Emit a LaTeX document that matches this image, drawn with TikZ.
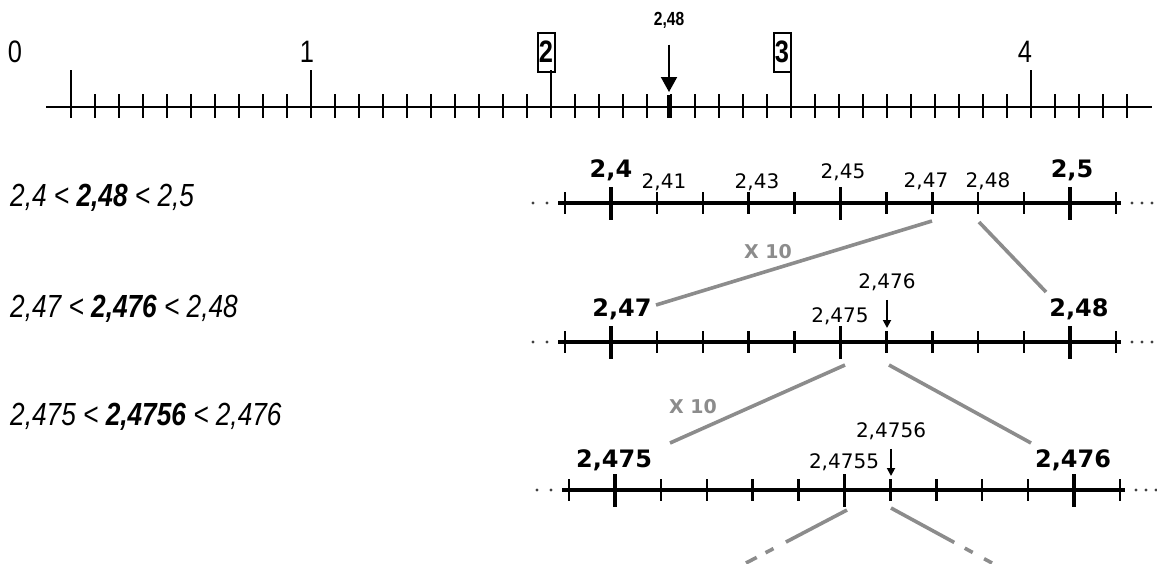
\documentclass[tikz,border=0pt]{standalone}
\usepackage{fontspec}
\newfontfamily\narrowfont[FakeStretch=0.82]{Liberation Sans}
\newfontfamily\verdfont{DejaVu Sans}
\usetikzlibrary{arrows.meta}

\begin{document}
\begin{tikzpicture}[
  x=1pt, y=-1pt,
  axis/.style={line width=2.5pt},
  tick/.style={line width=2.3pt},
  num/.style={font=\narrowfont\fontsize{31}{36}\selectfont, inner sep=1pt},
  boxnum/.style={font=\narrowfont\bfseries\fontsize{31}{36}\selectfont, draw, line width=2pt, minimum width=17pt, minimum height=39pt, inner sep=0.5pt},
  ineq/.style={font=\narrowfont\itshape\fontsize{32}{38}\selectfont, anchor=west, inner sep=0pt},
  zaxis/.style={line width=3.4pt},
  ztick/.style={line width=2.5pt},
  zmain/.style={line width=4.4pt},
  big/.style={font=\verdfont\bfseries\fontsize{24}{28}\selectfont, inner sep=1pt},
  small/.style={font=\verdfont\fontsize{20}{24}\selectfont, inner sep=1pt},
  link/.style={line width=3.6pt, black!45},
  times/.style={font=\verdfont\bfseries\fontsize{19}{22}\selectfont, text=black!45, inner sep=1pt},
  zarr/.style={-{Triangle[width=8pt,length=8pt]}, line width=1.8pt}
]
\useasboundingbox (0,0) rectangle (1157,563);

% number line 0..4
\draw[axis] (46,107) -- (1152,107);
\foreach \i in {0,...,44} \draw[tick] ({71+24*\i},94) -- ({71+24*\i},118);
\foreach \i in {0,...,4} \draw[tick] ({71+240*\i},70) -- ({71+240*\i},118);
\node[num] (n0) at (15,52) {0};
\node[num] (n1) at (307,52) {1};
\node[boxnum] (n2) at (546,52) {2};
\node[boxnum] (n3) at (782,52) {3};
\node[num] (n4) at (1025,52) {4};
\node[font=\narrowfont\bfseries\fontsize{19}{22}\selectfont] (t248) at (669,20) {2,48};
\coordinate (m248) at (669,92);
\draw[-{Triangle[width=16pt,length=15pt]}, line width=2pt, shorten <=13pt] (t248.south) -- (m248);
\draw[line width=4pt] (669,95) -- (669,118);

% inequalities
\node[ineq] (q1) at (10,198) {2,4 < \textbf{2,48} < 2,5};
\node[ineq] (q2) at (10,309) {2,47 < \textbf{2,476} < 2,48};
\node[ineq] (q3) at (10,417) {2,475 < \textbf{2,4756} < 2,476};

% zoomed lines
\foreach \y/\xo in {203/611,342/611,490/615}{
  \draw[zaxis] ({\xo-53},\y) -- ({\xo+510},\y);
  \foreach \i in {-1,...,11} \draw[ztick] ({\xo+45.9*\i},{\y-11}) -- ++(0,22);
  \draw[ztick] ({\xo+45.9*5},{\y-16}) -- ++(0,33);
  \foreach \i in {0,10} \draw[zmain] ({\xo+45.9*\i},{\y-16}) -- ++(0,33);
  \foreach \d in {-78,-64,521,531,541} \fill[black!75] ({\xo+\d},\y) circle (1.7pt);
}

% 2,4 .. 2,5
\node[big] (a24) at (611,170) {2,4};
\node[small] (a241) at (664,182) {2,41};
\node[small] (a243) at (757,182) {2,43};
\node[small] (a245) at (843,172) {2,45};
\node[small] (a247) at (926,181) {2,47};
\node[small] (a248) at (988,181) {2,48};
\node[big] (a25) at (1072,170) {2,5};

% 2,47 .. 2,48
\node[big] (b247) at (622,309) {2,47};
\node[small] (b2475) at (840,316) {2,475};
\node[small] (b2476) at (887,282) {2,476};
\node[big] (b248) at (1079,309) {2,48};
\coordinate (p2476) at (887,328);
\draw[zarr, shorten <=8pt] (b2476.south) -- (p2476);

% 2,475 .. 2,476
\node[big] (c2475) at (614,460) {2,475};
\node[small] (c24755) at (844,462) {2,4755};
\node[small] (c24756) at (891,431) {2,4756};
\node[big] (c2476) at (1073,460) {2,476};
\coordinate (p24756) at (891,476);
\draw[zarr, shorten <=8pt] (c24756.south) -- (p24756);

% zoom connectors
\coordinate (g1) at (932,221); \coordinate (h1) at (656,305);
\coordinate (g2) at (979,222); \coordinate (h2) at (1046,292);
\coordinate (g3) at (845,365); \coordinate (h3) at (670,443);
\coordinate (g4) at (889,365); \coordinate (h4) at (1031,443);
\coordinate (g5) at (847,510); \coordinate (h5) at (746,563);
\coordinate (g6) at (891,508); \coordinate (h6) at (992,563);
\draw[link] (g1) -- (h1);
\draw[link] (g2) -- (h2);
\draw[link] (g3) -- (h3);
\draw[link] (g4) -- (h4);
\draw[link, dash pattern=on 69pt off 14pt on 9pt off 10pt on 20pt] (g5) -- (h5);
\draw[link, dash pattern=on 72pt off 12pt on 9pt off 13pt on 20pt] (g6) -- (h6);
\node[times] (x1) at (768,252) {X 10};
\node[times] (x2) at (693,407) {X 10};
\end{tikzpicture}
\end{document}
